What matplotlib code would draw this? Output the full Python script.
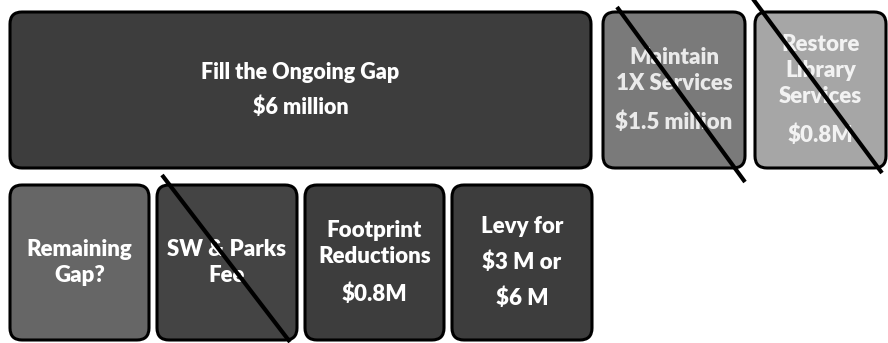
import matplotlib.pyplot as plt
from matplotlib.patches import FancyBboxPatch

# Textos de cada caja: lista de párrafos, cada párrafo con sus líneas
etiquetas = [
    ["Fill the Ongoing Gap", "$6 million"],
    ["Maintain\n1X Services", "$1.5 million"],
    ["Restore\nLibrary\nServices", "$0.8M"],
    ["Remaining\nGap?"],
    ["SW & Parks\nFee"],
    ["Footprint\nReductions", "$0.8M"],
    ["Levy for", "$3 M or", "$6 M"],
]
relleno = ["#3d3d3d", "#7a7a7a", "#a6a6a6", "#666666", "#444444", "#3d3d3d", "#3d3d3d"]
color_texto = ["white", "#eaeaea", "#f2f2f2", "white", "white", "white", "white"]
tachado = [False, True, True, False, True, False, False]

# Posiciones en píxeles (x0, y0, x1, y1)
cajas = [
    (10, 12, 591, 168),
    (603, 12, 745, 168),
    (755, 12, 886, 168),
    (10, 185, 149, 340),
    (157, 185, 297, 340),
    (305, 185, 444, 340),
    (452, 185, 592, 340),
]
# Líneas diagonales de tachado
lineas = {1: ((617, 7), (745, 182)), 2: ((753, -1), (882, 173)), 4: ((162, 175), (290, 342))}

paso_linea = 26   # separación entre líneas de un mismo párrafo
paso_parrafo = [35, 38, 39, 37, 37, 38, 36]  # separación entre párrafos

plt.rcParams["font.family"] = ["Lato", "DejaVu Sans"]
fig = plt.figure(figsize=(8.88, 3.43), dpi=100)
ax = fig.add_axes([0, 0, 1, 1])
ax.set_xlim(0, 888)
ax.set_ylim(343, 0)
ax.axis("off")

for i, (x0, y0, x1, y1) in enumerate(cajas):
    caja = FancyBboxPatch((x0 + 12, y0 + 12), (x1 - x0) - 24, (y1 - y0) - 24,
                          boxstyle="round,pad=12", facecolor=relleno[i],
                          edgecolor="black", linewidth=2.2, zorder=1)
    ax.add_patch(caja)

    # calcular la posición vertical de cada línea
    ys = []
    y = 0
    for p, parrafo in enumerate(etiquetas[i]):
        if p > 0:
            y += paso_parrafo[i]
        for k, linea in enumerate(parrafo.split("\n")):
            if k > 0:
                y += paso_linea
            ys.append((y, linea))
    centro = (y0 + y1) / 2 - y / 2
    tam = 15.5 if i == 0 else 16
    for dy, linea in ys:
        ax.text((x0 + x1) / 2, centro + dy, linea, ha="center", va="center",
                color=color_texto[i], fontsize=tam, fontweight="heavy", zorder=2)

    if tachado[i]:
        (a, b), (c, d) = lineas[i]
        ax.plot([a, c], [b, d], color="black", linewidth=3, solid_capstyle="butt", zorder=3)

plt.savefig("out.png", dpi=100)
plt.close()
